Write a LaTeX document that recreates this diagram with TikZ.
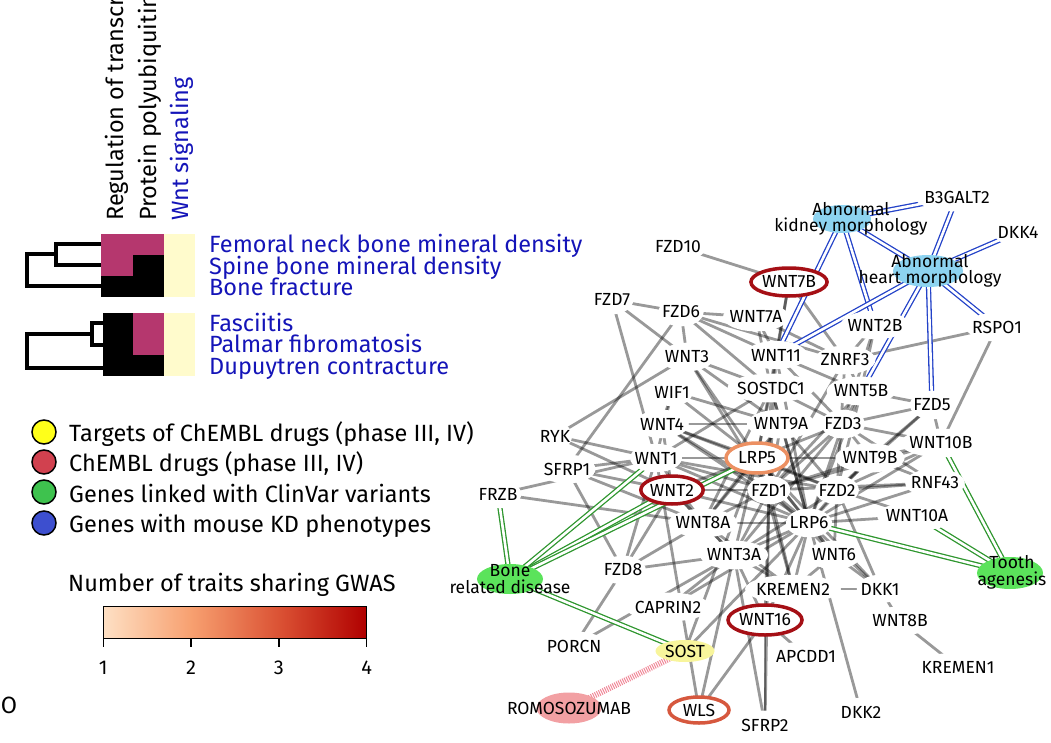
\documentclass[tikz,border=0pt]{standalone}
\usepackage{fontspec}
\setmainfont{Fira Sans}
\usetikzlibrary{shapes.geometric}
\definecolor{hpink}{HTML}{B5376E}
\definecolor{hyel}{HTML}{FFFBCC}
\definecolor{lblue}{HTML}{1414B8}
\definecolor{eblue}{HTML}{2342C8}
\definecolor{egreen}{HTML}{2E962E}
\definecolor{skyb}{HTML}{8DD3F0}
\definecolor{brgreen}{HTML}{5BE35B}
\definecolor{sostyel}{HTML}{F8F59C}
\definecolor{romopink}{HTML}{F2A0A3}
\definecolor{ring4}{HTML}{A50F15}
\definecolor{ring3}{HTML}{D6583E}
\definecolor{ring2}{HTML}{EC9062}
\definecolor{hatchc}{HTML}{F08898}
\definecolor{legy}{HTML}{FFFF1A}
\definecolor{legr}{HTML}{D1414F}
\definecolor{legg}{HTML}{3EC24E}
\definecolor{legb}{HTML}{3D4FCF}
\definecolor{cb1}{HTML}{FEE0C4}
\definecolor{cb2}{HTML}{F7A070}
\definecolor{cb3}{HTML}{DB5234}
\definecolor{cb4}{HTML}{B00000}
\pgfdeclarehorizontalshading{gwas}{100bp}{color(0bp)=(cb1); color(25bp)=(cb1); color(41.67bp)=(cb2); color(58.33bp)=(cb3); color(75bp)=(cb4); color(100bp)=(cb4)}
\pgfdeclarelayer{edgelayer}
\pgfsetlayers{edgelayer,main}
\newcommand\bigf{\fontsize{23.5}{26}\selectfont}
\newcommand\netf{\fontsize{17.5}{16}\selectfont}
\tikzset{
  gn/.style={ellipse, fill=white, inner xsep=-3pt, inner ysep=4pt, font=\netf},
  ringn/.style={ellipse, fill=white, draw, line width=3.5pt, inner sep=0pt, font=\netf},
  blobn/.style={ellipse, inner sep=0pt},
  bloblbl/.style={align=center, font=\netf, inner sep=0pt},
  gedge/.style={draw=black, opacity=0.4, line width=2.8pt},
  bedge/.style={draw=eblue, double=white, double distance=2.6pt, line width=1.3pt},
  gredge/.style={draw=egreen, double=white, double distance=2.6pt, line width=1.3pt},
  dendro/.style={line width=4pt, line join=miter},
  legc/.style={circle, draw=black, line width=1.5pt, minimum size=24pt, inner sep=0pt},
  legt/.style={anchor=west, font=\bigf, inner sep=0pt, text height=16pt, text depth=0pt},
  rowl/.style={anchor=west, font=\bigf, text=lblue, inner sep=0pt, text height=16pt, text depth=0pt},
  coll/.style={anchor=west, rotate=90, font=\bigf, inner sep=0pt, text height=16pt, text depth=0pt}
}
\begin{document}
\begin{tikzpicture}[x=1pt,y=-1pt]
\useasboundingbox (0,0) rectangle (1051,743);
% ---------- heatmap ----------
\fill[hpink] (101,234) rectangle (133,255);
\fill[hpink] (133,234) rectangle (164,255);
\fill[hpink] (101,255) rectangle (133,276);
\fill[black] (133,255) rectangle (164,276);
\fill[black] (101,276) rectangle (164,297);
\fill[hyel] (164,234) rectangle (195,297);
\fill[black] (102.5,313) rectangle (133,376);
\fill[hpink] (133,313) rectangle (164,355);
\fill[black] (133,355) rectangle (164,376);
\fill[hyel] (164,313) rectangle (195,376);
% dendrograms
\draw[dendro] (101,244) -- (56,244) -- (56,265) -- (101,265);
\draw[dendro] (56,254) -- (27,254) -- (27,286) -- (101,286);
\draw[dendro] (103,323) -- (92,323) -- (92,345) -- (103,345);
\draw[dendro] (92,334) -- (27,334) -- (27,368) -- (103,368);
% column labels
\node[coll] (c1) at (115,221) {Regulation of transcr};
\node[coll] (c2) at (148,221) {Protein polyubiquitin};
\node[coll, text=lblue] (c3) at (180,221) {Wnt signaling};
% row labels
\node[rowl] (r1) at (209,244) {Femoral neck bone mineral density};
\node[rowl] (r2) at (209,266) {Spine bone mineral density};
\node[rowl] (r3) at (209,287) {Bone fracture};
\node[rowl] (r4) at (209,323) {Fasciitis};
\node[rowl] (r5) at (209,344) {Palmar fibromatosis};
\node[rowl] (r6) at (209,366) {Dupuytren contracture};
% ---------- legend ----------
\node[legc, fill=legy] (l1) at (44,432) {};
\node[legc, fill=legr] (l2) at (44,462) {};
\node[legc, fill=legg] (l3) at (44,492) {};
\node[legc, fill=legb] (l4) at (44,523) {};
\node[legt] (t1) at (69,433) {Targets of ChEMBL drugs (phase III, IV)};
\node[legt] (t2) at (69,463) {ChEMBL drugs (phase III, IV)};
\node[legt] (t3) at (69,494) {Genes linked with ClinVar variants};
\node[legt] (t4) at (69,524) {Genes with mouse KD phenotypes};
\node[legt] (cbt) at (68,583) {Number of traits sharing GWAS};
\shade[shading=gwas] (103.3,606.7) rectangle (366.7,638.3);
\draw[line width=1.5pt] (103.3,606.7) rectangle (366.7,638.3);
\foreach \k/\xx in {1/103.3,2/191.1,3/278.9,4/366.7}{
  \draw[line width=1.5pt] (\xx,638.3) -- (\xx,647);
  \node[font=\fontsize{20}{22}\selectfont, inner sep=0pt] (tk\k) at (\xx,668) {\k};
}
\node[font=\bigf, inner sep=0pt] (oo) at (9,705) {O};
% ---------- network nodes ----------
\node[blobn, fill=skyb, minimum width=58pt, minimum height=28pt] (kidney) at (842,219) {};
\node[blobn, fill=skyb, minimum width=70pt, minimum height=32pt] (heart) at (928,271) {};
\node[blobn, fill=brgreen, minimum width=66pt, minimum height=30pt] (bone) at (510,579) {};
\node[blobn, fill=brgreen, minimum width=66pt, minimum height=32pt] (tooth) at (1010,573) {};
\node[blobn, fill=sostyel, minimum width=59pt, minimum height=22pt] (sost) at (685,651) {};
\node[blobn, fill=romopink, minimum width=65pt, minimum height=31pt] (romo) at (569,708) {};
\node[gn] (b3galt2) at (957,197) {B3GALT2};
\node[gn] (dkk4) at (1018,232) {DKK4};
\node[gn] (fzd10) at (678,247) {FZD10};
\node[ringn, draw=ring4, minimum width=74pt, minimum height=28pt] (wnt7b) at (789,282) {WNT7B};
\node[gn] (fzd7) at (612,300) {FZD7};
\node[gn] (fzd6) at (681,312) {FZD6};
\node[gn] (wnt7a) at (756,317) {WNT7A};
\node[gn] (wnt2b) at (875,325) {WNT2B};
\node[gn] (rspo1) at (997,327) {RSPO1};
\node[gn] (wnt3) at (687,357) {WNT3};
\node[gn] (wnt11) at (776,355) {WNT11};
\node[gn] (znrf3) at (845,360) {ZNRF3};
\node[gn] (wif1) at (672,392) {WIF1};
\node[gn] (sostdc1) at (771,388) {SOSTDC1};
\node[gn] (wnt5b) at (861,391) {WNT5B};
\node[gn] (fzd5) at (932,405) {FZD5};
\node[gn] (wnt4) at (662,424) {WNT4};
\node[gn] (wnt9a) at (781,424) {WNT9A};
\node[gn] (fzd3) at (843,424) {FZD3};
\node[gn] (ryk) at (555,436) {RYK};
\node[gn] (wnt10b) at (941,443) {WNT10B};
\node[gn] (wnt1) at (656,458) {WNT1};
\node[ringn, draw=ring2, minimum width=62pt, minimum height=30pt] (lrp5) at (757,458) {LRP5};
\node[gn] (wnt9b) at (870,458) {WNT9B};
\node[gn] (sfrp1) at (567,469) {SFRP1};
\node[gn] (rnf43) at (935,483) {RNF43};
\node[gn] (frzb) at (498,494) {FRZB};
\node[ringn, draw=ring4, minimum width=62pt, minimum height=28pt] (wnt2) at (672,490) {WNT2};
\node[gn] (fzd1) at (769,490) {FZD1};
\node[gn] (fzd2) at (837,490) {FZD2};
\node[gn] (wnt10a) at (917,516) {WNT10A};
\node[gn] (wnt8a) at (703,523) {WNT8A};
\node[gn] (lrp6) at (809,523) {LRP6};
\node[gn] (wnt3a) at (734,555) {WNT3A};
\node[gn] (wnt6) at (834,555) {WNT6};
\node[gn] (fzd8) at (623,570) {FZD8};
\node[gn] (kremen2) at (793,589) {KREMEN2};
\node[gn] (dkk1) at (880,589) {DKK1};
\node[gn] (caprin2) at (668,607) {CAPRIN2};
\node[ringn, draw=ring4, minimum width=74pt, minimum height=30pt] (wnt16) at (765,620) {WNT16};
\node[gn] (wnt8b) at (900,621) {WNT8B};
\node[gn] (porcn) at (574,646) {PORCN};
\node[gn] (apcdd1) at (806,656) {APCDD1};
\node[gn] (kremen1) at (958,667) {KREMEN1};
\node[ringn, draw=ring3, minimum width=60pt, minimum height=26pt] (wls) at (699,710) {WLS};
\node[gn] (sfrp2) at (765,725) {SFRP2};
\node[gn] (dkk2) at (861,712) {DKK2};
% blob labels
\node[bloblbl] (kidneyl) at (851,219) {Abnormal\\kidney morphology};
\node[bloblbl] (heartl) at (930,271) {Abnormal\\heart morphology};
\node[bloblbl, text depth=0pt] (bonel) at (510,579) {Bone\\[1pt]related disease};
\node[bloblbl] (toothl) at (1012,572) {Tooth\\[1pt]agenesis};
\node[bloblbl] (sostl) at (685,651) {SOST};
\node[bloblbl] (romol) at (569,708) {ROMOSOZUMAB};
% ---------- edges ----------
\begin{pgfonlayer}{edgelayer}
\foreach \a/\b in {fzd10/wnt7b, fzd7/wnt1, fzd7/wnt3, fzd7/fzd6, fzd6/sfrp1, fzd6/wnt3,
  fzd6/wnt11, fzd6/wnt7a, fzd6/sostdc1, fzd6/znrf3, ryk/wnt3, ryk/wnt1, ryk/wnt2, sfrp1/wnt1, sfrp1/wnt2,
  sfrp1/fzd8, sfrp1/wnt8a, frzb/wnt8a, frzb/wnt1, rspo1/znrf3, rspo1/wnt10b,
  wnt7b/wnt11, wnt7b/znrf3, wnt7b/sostdc1, wnt7a/wnt11, wnt7a/znrf3, wnt7a/sostdc1,
  wnt3/sostdc1, wnt3/wnt9a, wnt3/lrp5, wnt3/fzd1, wif1/wnt9a, wif1/lrp5, wif1/wnt1, wif1/wnt4,
  wnt11/fzd3, wnt11/lrp5, wnt11/fzd1, wnt11/wnt5b, wnt11/lrp6, wnt2b/znrf3, wnt2b/fzd3,
  wnt2b/wnt5b, znrf3/wnt5b, znrf3/fzd1, znrf3/fzd2, sostdc1/wnt9a, sostdc1/lrp5,
  sostdc1/lrp6, sostdc1/fzd3, sostdc1/fzd1, sostdc1/wnt1, sostdc1/wnt8a, wnt5b/fzd3, wnt5b/fzd2,
  wnt5b/lrp6, wnt5b/fzd1, fzd5/wnt9b, fzd5/fzd3, fzd5/wnt10b, fzd5/wnt5b, fzd5/fzd2, wnt4/lrp5,
  wnt4/fzd1, wnt4/wnt9a, wnt4/lrp6, wnt4/wnt2, wnt4/fzd2, wnt9a/lrp5, wnt9a/fzd1, wnt9a/lrp6,
  wnt9a/fzd2, wnt9a/wnt8a, fzd3/lrp5, fzd3/wnt9b, fzd3/fzd1, fzd3/lrp6, fzd3/wnt10b, fzd3/wnt3a,
  wnt1/lrp5, wnt1/fzd1, wnt1/lrp6, wnt1/wnt8a, wnt1/fzd8, wnt1/fzd2,
  lrp5/fzd1, lrp5/fzd2, lrp5/wnt9b, lrp5/wnt3a, lrp5/wnt8a, lrp5/lrp6, lrp5/wnt6,
  lrp5/dkk1, lrp5/kremen2, wnt9b/fzd2, wnt9b/lrp6, wnt9b/fzd1, wnt9b/wnt10b, wnt10b/fzd2,
  wnt10b/lrp6, wnt10b/fzd1, rnf43/fzd2, rnf43/fzd1, rnf43/lrp6, rnf43/fzd3, rnf43/wnt9b,
  wnt2/fzd1, wnt2/lrp6, wnt2/wnt8a, wnt2/wnt3a, wnt2/fzd8, wnt2/lrp5, fzd1/lrp6, fzd1/wnt3a,
  fzd1/kremen2, fzd1/wnt6, fzd1/wnt16, fzd2/lrp6, fzd2/wnt6, fzd2/dkk1, fzd2/wnt3a,
  wnt10a/lrp6, wnt10a/fzd2, wnt8a/lrp6, wnt8a/fzd1, wnt8a/fzd8, wnt8a/wnt3a, wnt8a/kremen2,
  lrp6/wnt3a, lrp6/wnt6, lrp6/kremen2, lrp6/dkk1, lrp6/wnt16, lrp6/dkk2, lrp6/caprin2,
  wnt3a/fzd8, wnt3a/caprin2, wnt3a/wls, wnt3a/sfrp2, wnt3a/wnt16, wnt3a/kremen2,
  wnt6/kremen2, wnt6/dkk1, kremen2/dkk1, dkk1/wnt8b, wnt8b/kremen1, wnt16/apcdd1,
  wnt16/wls, wnt16/sfrp2, porcn/fzd8, porcn/wnt3a, sost/lrp6, sost/lrp5, wls/wnt1, fzd1/sfrp2}
  {\draw[gedge] (\a.center) -- (\b.center);}
\foreach \a/\b in {kidney/b3galt2, kidney/heart, kidney/wnt11, kidney/wnt2b, heart/b3galt2,
  heart/dkk4, heart/wnt11, heart/wnt5b, heart/fzd5, heart/rspo1}
  {\draw[bedge] (\a.center) -- (\b.center);}
\foreach \a/\b in {frzb/bone, bone/wnt1, bone/wnt2, bone/lrp5, bone/sost, lrp6/tooth,
  wnt10a/tooth, wnt10b/tooth}
  {\draw[gredge] (\a.center) -- (\b.center);}
\draw[draw=hatchc, line width=6pt, dash pattern=on 1pt off 1.2pt] (sost.center) -- (romo.center);
\end{pgfonlayer}
\end{tikzpicture}
\end{document}
